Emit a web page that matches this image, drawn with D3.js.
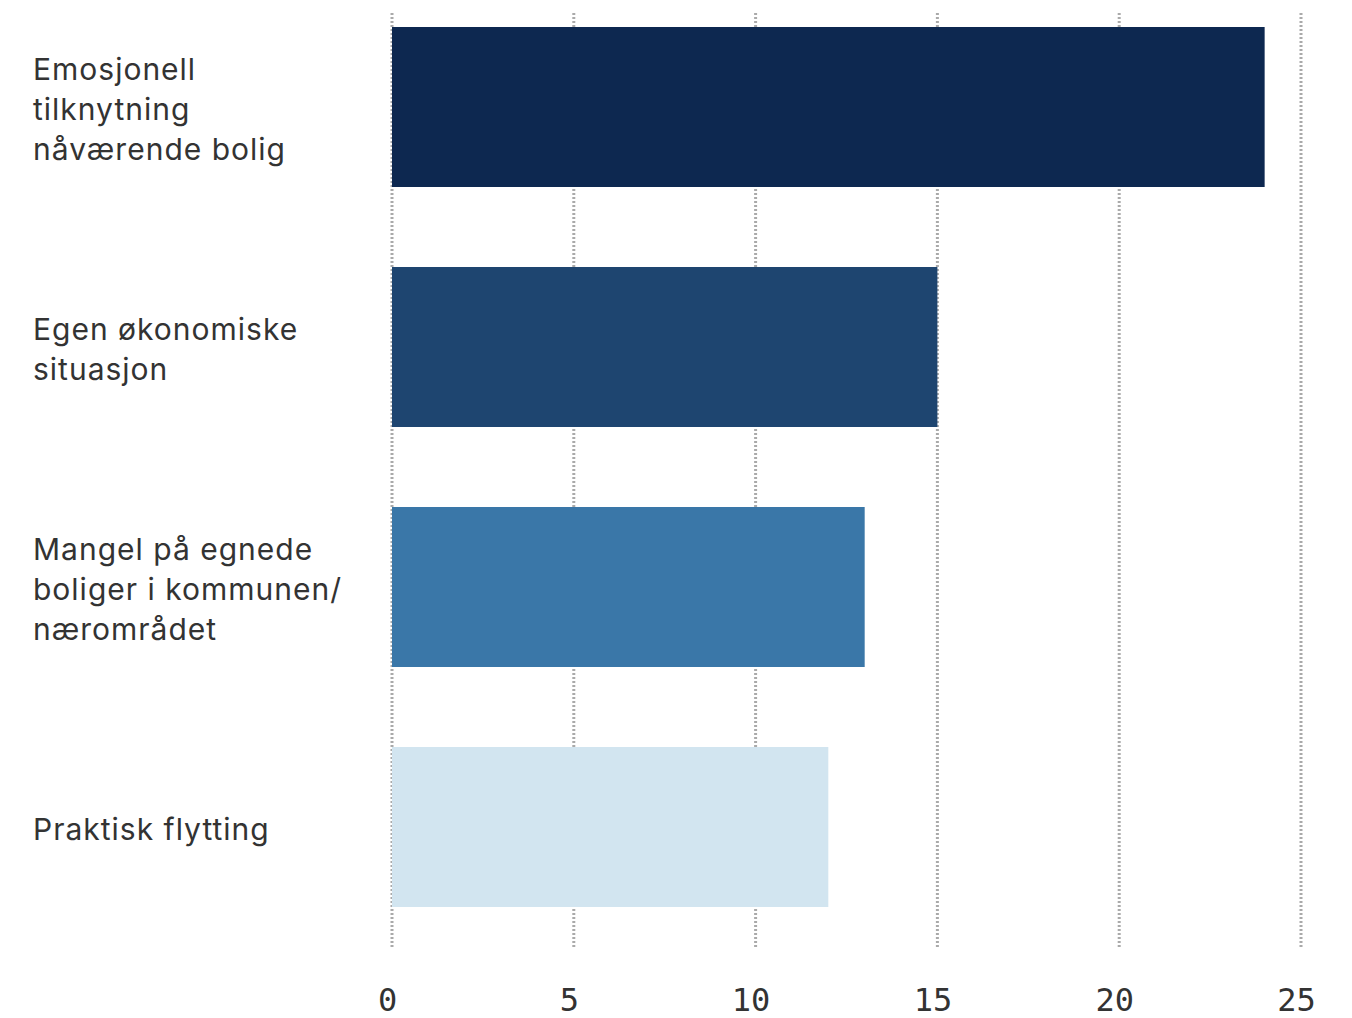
<!DOCTYPE html>
<html><head><meta charset="utf-8">
<script src="https://cdn.jsdelivr.net/npm/d3@7"></script>
<style>body{margin:0;background:#fff}</style>
</head><body>
<svg id="c" width="1352" height="1018"></svg>
<script>
const categories = [
  ["Emosjonell", "tilknytning", "nåværende bolig"],
  ["Egen økonomiske", "situasjon"],
  ["Mangel på egnede", "boliger i kommunen/", "nærområdet"],
  ["Praktisk flytting"]
];
const values = [24, 15, 13, 12];
const colors = ["#0d2850", "#1e4570", "#3a77a8", "#d2e5f0"];
const tickValues = [0, 5, 10, 15, 20, 25];

const svg = d3.select("#c");
const x = d3.scaleLinear().domain([0, 25]).range([392, 1301]);
const y = d3.scaleBand().domain(d3.range(categories.length)).range([15, 919])
  .paddingInner(1/3).paddingOuter(0.05);

// gridlines
svg.append("g").selectAll("line").data(tickValues).join("line")
  .attr("x1", d => x(d)).attr("x2", d => x(d))
  .attr("y1", 13).attr("y2", 947)
  .attr("stroke", "#aaaaaa").attr("stroke-width", 3)
  .attr("stroke-dasharray", "2,2");

// bars
svg.append("g").selectAll("rect").data(values).join("rect")
  .attr("x", x(0)).attr("y", (d, i) => y(i))
  .attr("width", d => x(d) - x(0)).attr("height", y.bandwidth())
  .attr("fill", (d, i) => colors[i]);

// x axis
const ax = svg.append("g").attr("transform", "translate(-5,977)")
  .call(d3.axisBottom(x).tickValues(tickValues).tickSize(0).tickPadding(0));
ax.select(".domain").remove();
ax.selectAll("text").attr("font-family", "'DejaVu Sans Mono', monospace")
  .attr("font-size", 32).attr("fill", "#333").attr("dy", "1.05em");

// category labels
const lab = svg.append("g");
categories.forEach((lines, i) => {
  const cy = y(i) + y.bandwidth() / 2 + 2;
  const n = lines.length;
  const t = lab.append("text").attr("font-family", "Inter, sans-serif")
    .attr("font-size", 30).attr("letter-spacing", 1).attr("fill", "#333");
  lines.forEach((l, j) => {
    t.append("tspan").attr("x", 33)
      .attr("y", cy + (j - (n - 1) / 2) * 40).attr("dy", "0.35em").text(l);
  });
});
</script>
</body></html>
